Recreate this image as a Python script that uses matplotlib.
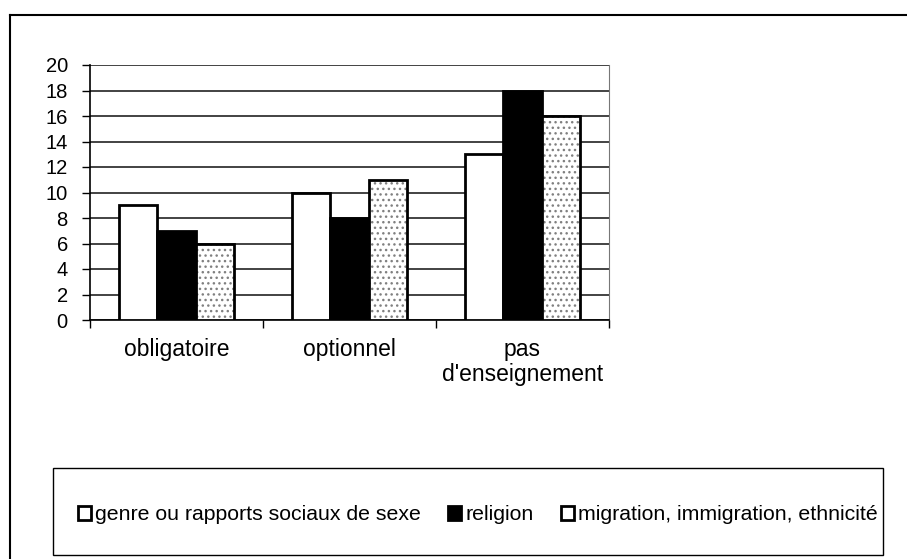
import matplotlib.pyplot as plt
from matplotlib.patches import Rectangle
from matplotlib.lines import Line2D
import numpy as np

categories = ['obligatoire', 'optionnel', "pas\nd'enseignement"]
series_names = ['genre ou rapports sociaux de sexe', 'religion',
                'migration, immigration, ethnicité']
genre = [9, 10, 13]
religion = [7, 8, 18]
migration = [6, 11, 16]
y_ticks = [0, 2, 4, 6, 8, 10, 12, 14, 16, 18, 20]

plt.rcParams['font.family'] = ['Liberation Sans', 'DejaVu Sans']

W, H = 907, 559
fig = plt.figure(figsize=(W / 100, H / 100), dpi=100)

# outer chart frame (runs off the right and bottom of the picture)
fig.add_artist(Line2D([10 / W, 10 / W], [0, 1 - 15 / H], color='black', lw=1.5,
                      transform=fig.transFigure))
fig.add_artist(Line2D([10 / W, 1], [1 - 15 / H, 1 - 15 / H], color='black', lw=1.5,
                      transform=fig.transFigure))

ax = fig.add_axes([90 / W, 1 - 320 / H, (609 - 90) / W, (320 - 65) / H])

x = np.arange(len(categories))
w = 1 / 4.5
ax.bar(x - w, genre, w, color='white', edgecolor='black', lw=2, zorder=3)
ax.bar(x, religion, w, color='black', edgecolor='black', lw=2, zorder=3)
ax.bar(x + w, migration, w, color='white', edgecolor='#808080', hatch='...', lw=0, zorder=3)
ax.bar(x + w, migration, w, color='none', edgecolor='black', lw=2, zorder=4)

ax.set_xlim(-0.5, len(categories) - 0.5)
ax.set_ylim(0, 20)
ax.set_yticks(y_ticks)
ax.yaxis.grid(True, color='#222222', lw=1.2, zorder=0)
ax.set_axisbelow(True)

ax.set_xticks(x)
ax.set_xticklabels(categories, fontsize=16.5, linespacing=1.1)
ax.set_xticks(np.arange(-0.5, len(categories)), minor=True)
ax.tick_params(axis='x', which='major', length=0, pad=13)
ax.tick_params(axis='x', which='minor', length=6, direction='out', width=1)
ax.tick_params(axis='y', length=6, direction='out', width=1, labelsize=14.5, pad=10)

ax.spines['top'].set_visible(False)
ax.spines['right'].set_color('#777777')
ax.spines['left'].set_linewidth(1.2)
ax.spines['bottom'].set_linewidth(1.2)

# legend box
fig.add_artist(Rectangle((53 / W, 1 - 555 / H), (883 - 53) / W, (555 - 468) / H,
                         transform=fig.transFigure, facecolor='none',
                         edgecolor='black', lw=1))
handles = [
    Rectangle((0, 0), 1, 1, facecolor='white', edgecolor='black', lw=2),
    Rectangle((0, 0), 1, 1, facecolor='black', edgecolor='black', lw=2),
    Rectangle((0, 0), 1, 1, facecolor='white', edgecolor='black', lw=2),
]
fig.legend(handles, series_names, loc='center', ncol=3, frameon=False,
           bbox_to_anchor=(478 / W, 1 - 515 / H), fontsize=15.3,
           handlelength=0.6, handleheight=0.6, handletextpad=0.2,
           columnspacing=1.3)

fig.savefig('out.png', dpi=100)
